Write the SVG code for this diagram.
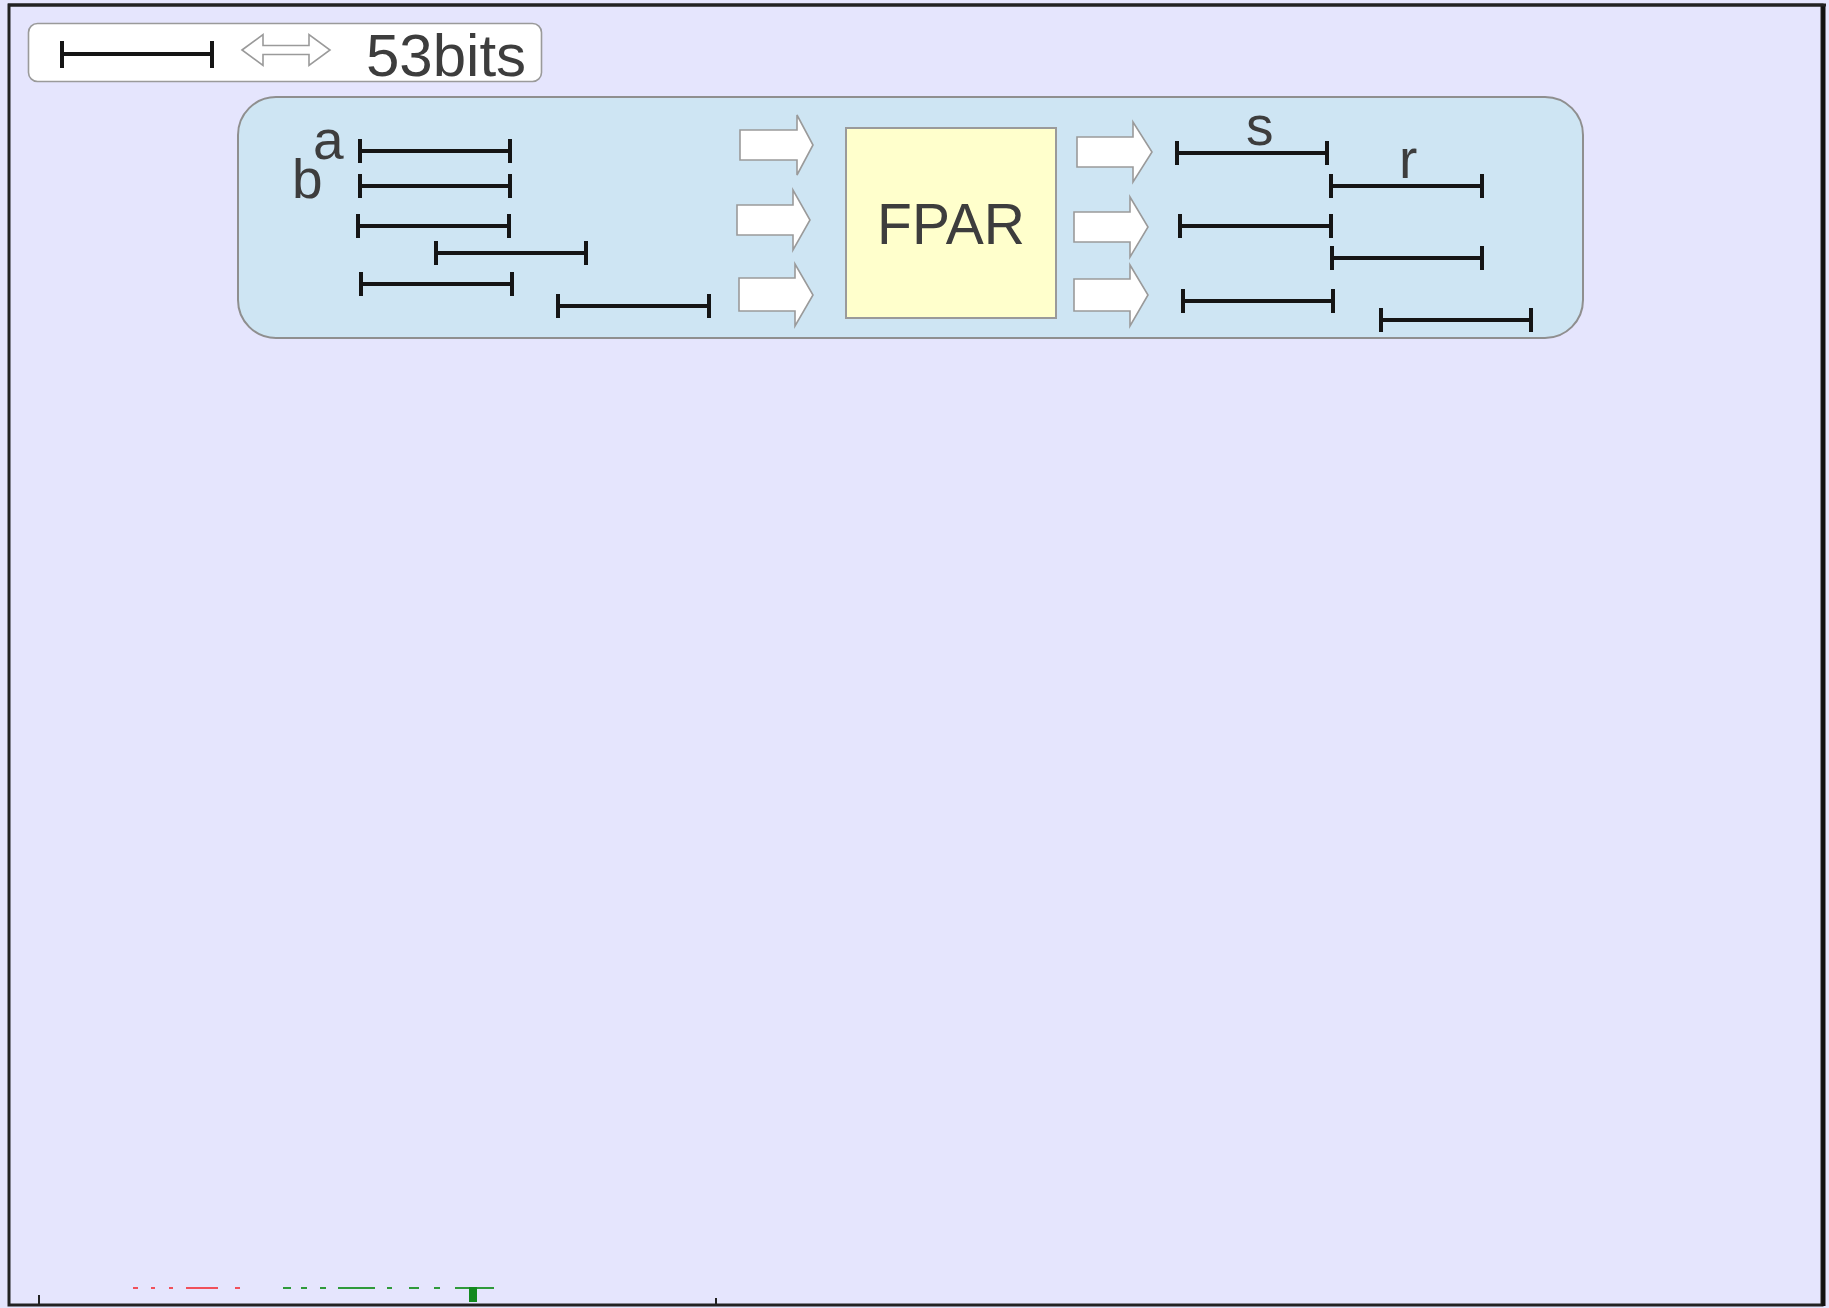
<svg xmlns="http://www.w3.org/2000/svg" width="1829" height="1308" viewBox="0 0 1829 1308">
<style>
.txt{font-family:"Liberation Sans",Arial,sans-serif;fill:#3d3d3d}
.bar{fill:none;stroke:#151515;stroke-width:4}
.blk{fill:#ffffff;stroke:#9a9a9a;stroke-width:1.6;stroke-linejoin:miter}
</style>
<rect x="0" y="0" width="1829" height="1308" fill="#e5e5fd"/>
<rect x="9" y="5" width="1813" height="1300" fill="#e5e5fd" stroke="#222" stroke-width="3"/>
<line x1="1823.5" y1="4" x2="1823.5" y2="1306" stroke="#111" stroke-width="4"/>
<line x1="8" y1="5" x2="1826" y2="5" stroke="#222" stroke-width="3"/>

<g id="legend">
  <rect x="28.5" y="23.5" width="513" height="58" rx="9" fill="#ffffff" stroke="#9a9a9a" stroke-width="1.6"/>
  <path class="bar" d="M62 54 H212 M62 41 V68 M212 41 V68"/>
  <path class="blk" d="M242 50 L263 34.5 V45.5 H309 V34.5 L330 50 L309 65.5 V54.5 H263 V65.5 Z"/>
  <text class="txt" x="366" y="76" font-size="60">53bits</text>
</g>

<g id="container">
  <rect x="238" y="97" width="1345" height="241" rx="38" fill="#cee5f3" stroke="#8f8f8f" stroke-width="2"/>
</g>

<g id="inputs">
  <text class="txt" x="313" y="159" font-size="55">a</text>
  <text class="txt" x="292" y="198" font-size="55">b</text>
  <path class="bar" d="M360 151 H510 M360 139 V163 M510 139 V163"/>
  <path class="bar" d="M360 186 H510 M360 174 V198 M510 174 V198"/>
  <path class="bar" d="M358 226 H509 M358 214 V238 M509 214 V238"/>
  <path class="bar" d="M436 253 H586 M436 241 V265 M586 241 V265"/>
  <path class="bar" d="M361 284 H512 M361 272 V296 M512 272 V296"/>
  <path class="bar" d="M558 306 H709 M558 294 V318 M709 294 V318"/>
</g>

<g id="fpar">
  <rect x="846" y="128" width="210" height="190" fill="#ffffcc" stroke="#9a9a9a" stroke-width="2"/>
  <text class="txt" x="951" y="244" font-size="57" text-anchor="middle">FPAR</text>
</g>

<g id="outputs">
  <text class="txt" x="1246" y="145" font-size="55">s</text>
  <text class="txt" x="1399" y="178" font-size="55">r</text>
  <path class="bar" d="M1177 153 H1327 M1177 141 V165 M1327 141 V165"/>
  <path class="bar" d="M1331 186 H1482 M1331 174 V198 M1482 174 V198"/>
  <path class="bar" d="M1180 226 H1331 M1180 214 V238 M1331 214 V238"/>
  <path class="bar" d="M1332 258 H1482 M1332 246 V270 M1482 246 V270"/>
  <path class="bar" d="M1183 301 H1333 M1183 289 V313 M1333 289 V313"/>
  <path class="bar" d="M1381 320 H1531 M1381 308 V332 M1531 308 V332"/>
</g>

<g id="connectors">
  <path class="blk" d="M740 130 H797 V115 L813 145 L797 175 V160 H740 Z"/>
  <path class="blk" d="M737 205 H793 V190 L810 220 L793 250 V235 H737 Z"/>
  <path class="blk" d="M739 278 H795 V264 L813 295 L795 326 V311 H739 Z"/>
  <path class="blk" d="M1077 137 H1133 V122 L1152 152 L1133 182 V167 H1077 Z"/>
  <path class="blk" d="M1074 212 H1130 V197 L1148 227 L1130 257 V242 H1074 Z"/>
  <path class="blk" d="M1074 279 H1130 V265 L1148 295 L1130 326 V311 H1074 Z"/>
</g>

<g id="bottom-marks">
  <line x1="39" y1="1295" x2="39" y2="1305" stroke="#222" stroke-width="2"/>
  <line x1="716" y1="1298" x2="716" y2="1305" stroke="#222" stroke-width="2"/>
  <g stroke="#f0505a" stroke-width="2">
    <line x1="133" y1="1288" x2="138" y2="1288"/>
    <line x1="151" y1="1288" x2="155" y2="1288"/>
    <line x1="169" y1="1288" x2="173" y2="1288"/>
    <line x1="186" y1="1288" x2="218" y2="1288"/>
    <line x1="235" y1="1288" x2="240" y2="1288"/>
  </g>
  <g stroke="#2f9a3a" stroke-width="2">
    <line x1="283" y1="1288" x2="291" y2="1288"/>
    <line x1="301" y1="1288" x2="307" y2="1288"/>
    <line x1="320" y1="1288" x2="326" y2="1288"/>
    <line x1="338" y1="1288" x2="375" y2="1288"/>
    <line x1="387" y1="1288" x2="392" y2="1288"/>
    <line x1="409" y1="1288" x2="419" y2="1288"/>
    <line x1="434" y1="1288" x2="440" y2="1288"/>
    <line x1="455" y1="1288" x2="494" y2="1288"/>
  </g>
  <rect x="469" y="1287" width="8" height="15" fill="#138a1f"/>
</g>
</svg>
